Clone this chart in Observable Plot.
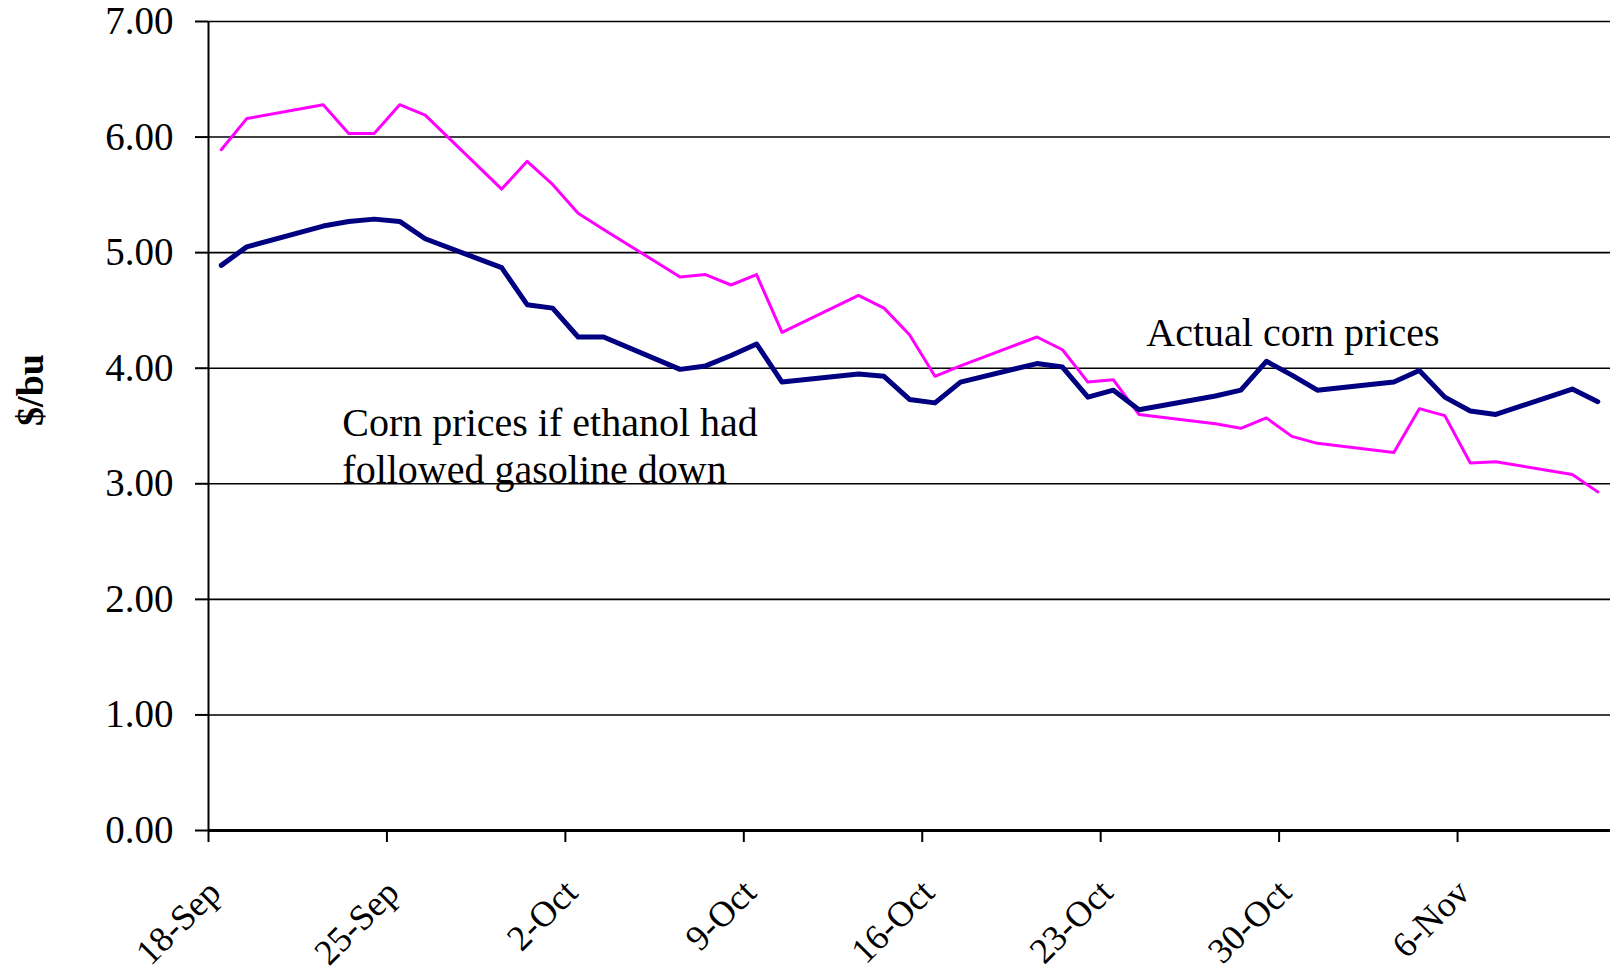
<!DOCTYPE html>
<html>
<head>
<meta charset="utf-8">
<script src="https://cdn.jsdelivr.net/npm/d3@7"></script>
<script src="https://cdn.jsdelivr.net/npm/@observablehq/plot@0.6"></script>
<style>
  html, body { margin: 0; padding: 0; background: #ffffff; }
  #chart { width: 1610px; height: 977px; overflow: hidden; }
</style>
</head>
<body>
<div id="chart"></div>
<script>
// Trading days (2008)
const tradingDays = [
  "2008-09-18","2008-09-19","2008-09-22","2008-09-23","2008-09-24","2008-09-25","2008-09-26",
  "2008-09-29","2008-09-30","2008-10-01","2008-10-02","2008-10-03",
  "2008-10-06","2008-10-07","2008-10-08","2008-10-09","2008-10-10",
  "2008-10-13","2008-10-14","2008-10-15","2008-10-16","2008-10-17",
  "2008-10-20","2008-10-21","2008-10-22","2008-10-23","2008-10-24",
  "2008-10-27","2008-10-28","2008-10-29","2008-10-30","2008-10-31",
  "2008-11-03","2008-11-04","2008-11-05","2008-11-06","2008-11-07",
  "2008-11-10","2008-11-11"
];

// Actual corn prices ($/bu)
const actualPrices = [
  4.89, 5.05, 5.23, 5.27, 5.29, 5.27, 5.12,
  4.87, 4.55, 4.52, 4.27, 4.27,
  3.99, 4.02, 4.11, 4.21, 3.88,
  3.95, 3.93, 3.73, 3.70, 3.88,
  4.04, 4.01, 3.75, 3.81, 3.64,
  3.76, 3.81, 4.06, 3.94, 3.81,
  3.88, 3.98, 3.75, 3.63, 3.60,
  3.82, 3.71
];

// Corn prices if ethanol had followed gasoline down ($/bu)
const ethanolPrices = [
  5.89, 6.16, 6.28, 6.03, 6.03, 6.28, 6.19,
  5.55, 5.79, 5.59, 5.34, 5.20,
  4.79, 4.81, 4.72, 4.81, 4.31,
  4.63, 4.52, 4.29, 3.93, 4.02,
  4.27, 4.16, 3.88, 3.90, 3.60,
  3.52, 3.48, 3.57, 3.41, 3.35,
  3.27, 3.65, 3.59, 3.18, 3.19,
  3.08, 2.93
];

// Axis ticks
const xTickDates = ["2008-09-18","2008-09-25","2008-10-02","2008-10-09","2008-10-16","2008-10-23","2008-10-30","2008-11-06"];
const xTickLabels = ["18-Sep","25-Sep","2-Oct","9-Oct","16-Oct","23-Oct","30-Oct","6-Nov"];
const xDomain = ["2008-09-18","2008-11-12"];
const yTicks = [0, 1, 2, 3, 4, 5, 6, 7];
const yLabel = "$/bu";

// Annotations
const annotations = [
  {date: "2008-10-24T19:00", value: 4.305, text: "Actual corn prices", anchor: "middle", lh: 1},
  {date: "2008-09-23T06:00", value: 3.70, text: "Corn prices if ethanol had\nfollowed gasoline down", anchor: "top", lh: 1.175}
];

// Build tables (points centred on each day, as in the original date axis)
const toDate = s => new Date(s + (s.length === 10 ? "T00:00:00Z" : ":00Z"));
const mid = s => new Date(toDate(s).getTime() + 12 * 3600 * 1000);
const actualData = tradingDays.map((d, i) => ({date: mid(d), value: actualPrices[i]}));
const ethanolData = tradingDays.map((d, i) => ({date: mid(d), value: ethanolPrices[i]}));
const xTicks = xTickDates.map(toDate);
const annData = annotations.map(a => ({...a, date: toDate(a.date)}));

const font = "'Liberation Serif', 'Times New Roman', serif";

const chart = Plot.plot({
  width: 1610,
  height: 977,
  marginLeft: 208,
  marginRight: 0,
  marginTop: 21,
  marginBottom: 147,
  style: {fontFamily: font, background: "#ffffff", color: "#000000"},
  x: {type: "utc", domain: xDomain.map(toDate)},
  y: {domain: [0, 7]},
  marks: [
    Plot.ruleY(yTicks.filter(v => v > 0), {stroke: "#000000", strokeWidth: 1.6}),
    Plot.line(ethanolData, {x: "date", y: "value", stroke: "#FF00FF", strokeWidth: 3, strokeLinejoin: "round"}),
    Plot.line(actualData, {x: "date", y: "value", stroke: "#000080", strokeWidth: 5, strokeLinejoin: "round", strokeLinecap: "round"}),
    Plot.ruleX([xTicks[0]], {stroke: "#000000", strokeWidth: 2}),
    Plot.ruleY([0], {stroke: "#000000", strokeWidth: 3}),
    Plot.axisY({
      ticks: yTicks, tickSize: 13, tickPadding: 22,
      tickFormat: d => d.toFixed(2), fontSize: 39, label: null,
      stroke: "#000000", strokeWidth: 2
    }),
    Plot.axisX({
      ticks: xTicks, tickSize: 12, tickFormat: () => "", label: null,
      stroke: "#000000", strokeWidth: 2
    }),
    Plot.text(xTicks, {
      x: d => d, text: (d, i) => xTickLabels[i],
      frameAnchor: "bottom", rotate: -45, textAnchor: "end", lineAnchor: "middle",
      dx: 6, dy: 56, fontSize: 36, fill: "#000000"
    }),
    Plot.text([yLabel], {
      text: d => d, frameAnchor: "left", rotate: -90, textAnchor: "middle", lineAnchor: "middle",
      dx: -178, dy: -36, fontSize: 38, fontWeight: "bold", fill: "#000000"
    }),
    Plot.text(annData.filter(a => a.anchor === "middle"), {
      x: "date", y: "value", text: "text", textAnchor: "start", lineAnchor: "middle",
      fontSize: 40, fill: "#000000"
    }),
    Plot.text(annData.filter(a => a.anchor === "top"), {
      x: "date", y: "value", text: "text", textAnchor: "start", lineAnchor: "top",
      lineHeight: 1.175, fontSize: 40, fill: "#000000"
    })
  ]
});

document.getElementById("chart").appendChild(chart);
</script>
</body>
</html>
